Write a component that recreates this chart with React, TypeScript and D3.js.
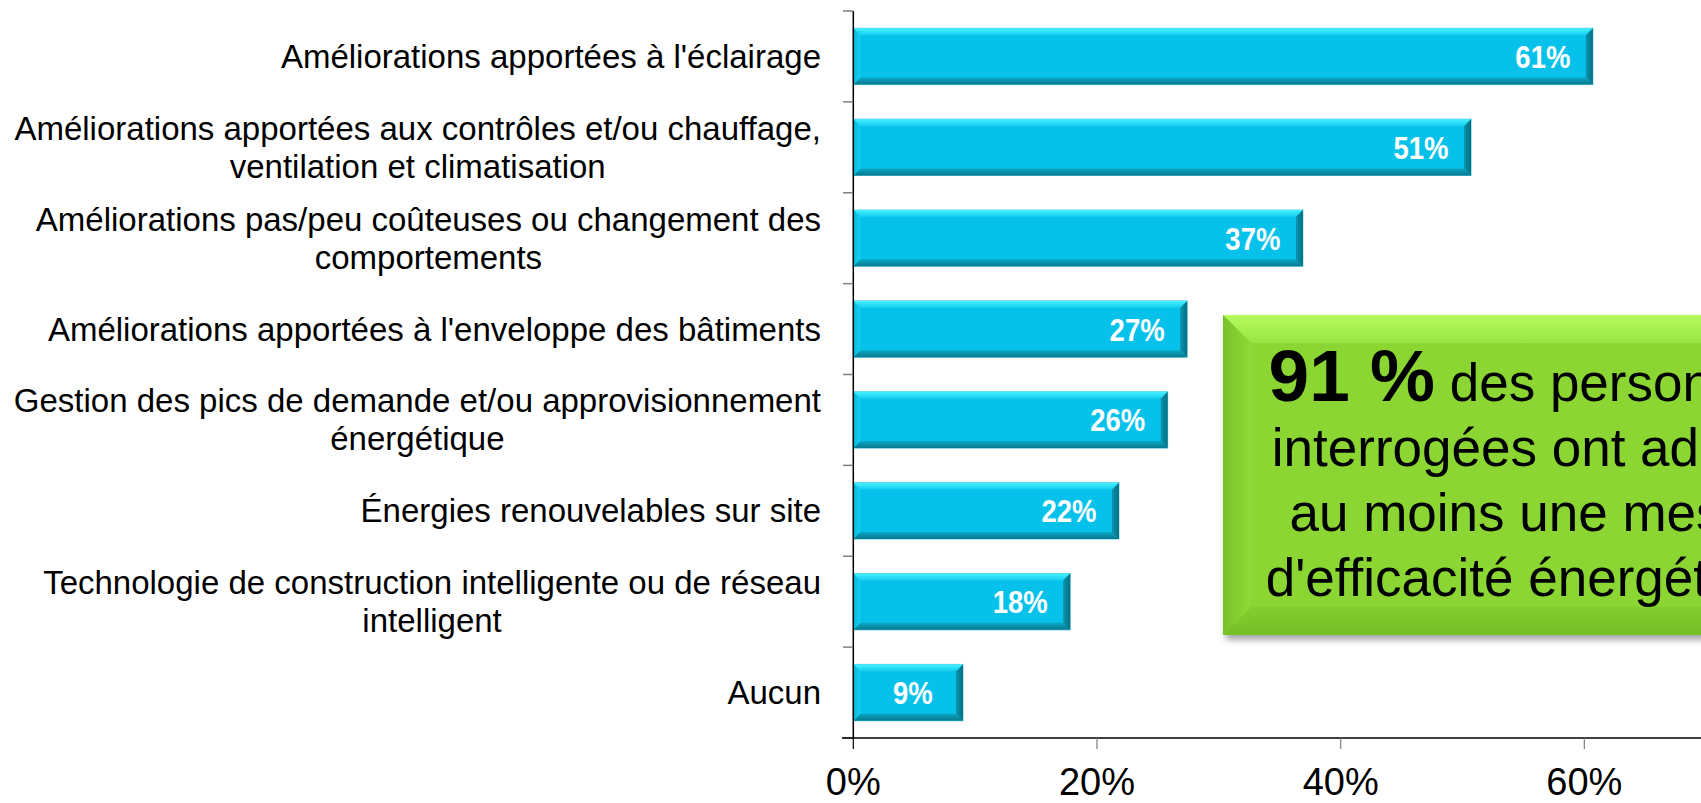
import React from "react";
import * as d3 from "d3";

const categories: string[] = [
  "Améliorations apportées à l'éclairage",
  "Améliorations apportées aux contrôles et/ou chauffage,\nventilation et climatisation",
  "Améliorations pas/peu coûteuses ou changement des\ncomportements",
  "Améliorations apportées à l'enveloppe des bâtiments",
  "Gestion des pics de demande et/ou approvisionnement\nénergétique",
  "Énergies renouvelables sur site",
  "Technologie de construction intelligente ou de réseau\nintelligent",
  "Aucun",
];
const values: number[] = [0.607, 0.507, 0.369, 0.274, 0.258, 0.218, 0.178, 0.09];
const xTicks: number[] = [0, 0.2, 0.4, 0.6];
const calloutBold = "91 %";
const calloutLines: string[] = [
  " des personnes",
  "interrogées ont adopté",
  " au moins une mesure",
  "d'efficacité énergétique",
];

const FONT = "'Liberation Sans', Arial, Helvetica, sans-serif";
const W = 1701;
const H = 803;

let ctx: CanvasRenderingContext2D | null = null;
function measure(text: string, font: string): number {
  if (!ctx) {
    const c = document.createElement("canvas");
    ctx = c.getContext("2d");
  }
  if (!ctx) return text.length * 16;
  ctx.font = font;
  return ctx.measureText(text).width;
}

export default function App() {
  const x = d3.scaleLinear().domain([0, 1]).range([853.3, 853.3 + 1218.4]);
  const y = d3
    .scaleBand<string>()
    .domain(categories)
    .range([11, 738])
    .paddingInner(0.38)
    .paddingOuter(0.19);
  const step = y.step();
  const bw = y.bandwidth();
  const fmt = d3.format(".0%");
  const boundaries = d3.range(categories.length + 1).map((i) => 11 + i * step);
  const labelRight = 821;
  const labelFont = `33px ${FONT}`;
  const b = 7;

  // callout box
  const bx = 1223, by = 315, bwid = 628, bh = 320, bb = 28;
  const cx = bx + bwid / 2;

  return (
    <svg
      width={W}
      height={H}
      style={{ position: "absolute", left: 0, top: 0, background: "#fff" }}
      fontFamily={FONT}
    >
      <defs>
        <linearGradient id="barTop" x1="0" y1="0" x2="0" y2="1">
          <stop offset="0" stopColor="#45F2FF" />
          <stop offset="1" stopColor="#14CCF0" />
        </linearGradient>
        <linearGradient id="barBottom" x1="0" y1="0" x2="0" y2="1">
          <stop offset="0" stopColor="#0AA8C6" />
          <stop offset="1" stopColor="#06788C" />
        </linearGradient>
        <linearGradient id="barRight" x1="0" y1="0" x2="1" y2="0">
          <stop offset="0" stopColor="#0995AF" />
          <stop offset="1" stopColor="#066E82" />
        </linearGradient>
        <linearGradient id="barLeft" x1="0" y1="0" x2="1" y2="0">
          <stop offset="0" stopColor="#0AB7DD" />
          <stop offset="1" stopColor="#14CEF1" />
        </linearGradient>
        <linearGradient id="gTop" x1="0" y1="0" x2="0" y2="1">
          <stop offset="0" stopColor="#B6FB5E" />
          <stop offset="1" stopColor="#98E443" />
        </linearGradient>
        <linearGradient id="gLeft" x1="0" y1="0" x2="1" y2="0">
          <stop offset="0" stopColor="#78C12A" />
          <stop offset="1" stopColor="#90DA38" />
        </linearGradient>
        <linearGradient id="gBottom" x1="0" y1="0" x2="0" y2="1">
          <stop offset="0" stopColor="#84CD2E" />
          <stop offset="1" stopColor="#76BE26" />
        </linearGradient>
        <filter id="shadow" x="-10%" y="-10%" width="130%" height="130%">
          <feDropShadow dx="3" dy="5" stdDeviation="3" floodColor="#000" floodOpacity="0.35" />
        </filter>
      </defs>

      {/* bars */}
      {categories.map((c, i) => {
        const x0 = x(0);
        const x1 = x(values[i]);
        const y0 = y(c) as number;
        const h = bw;
        return (
          <g key={c}>
            <rect x={x0} y={y0} width={x1 - x0} height={h} fill="#06C2EB" stroke="#5CCBE0" strokeWidth={1} />
            <polygon
              points={`${x0},${y0} ${x1},${y0} ${x1 - b},${y0 + b} ${x0 + b},${y0 + b}`}
              fill="url(#barTop)"
            />
            <polygon
              points={`${x0},${y0 + h} ${x1},${y0 + h} ${x1 - b},${y0 + h - b} ${x0 + b},${y0 + h - b}`}
              fill="url(#barBottom)"
            />
            <polygon
              points={`${x0},${y0} ${x0 + b},${y0 + b} ${x0 + b},${y0 + h - b} ${x0},${y0 + h}`}
              fill="url(#barLeft)"
            />
            <polygon
              points={`${x1},${y0} ${x1 - b},${y0 + b} ${x1 - b},${y0 + h - b} ${x1},${y0 + h}`}
              fill="url(#barRight)"
            />
            <text
              transform={`translate(${x1 - 50},${y0 + h / 2 + 11.5}) scale(0.86,1)`}
              textAnchor="middle"
              fontWeight="bold"
              fontSize={32}
              fill="#fff"
            >
              {fmt(values[i])}
            </text>
          </g>
        );
      })}

      {/* y axis */}
      <line x1={853.3} x2={853.3} y1={11} y2={738} stroke="#000" strokeWidth={1.5} />
      {boundaries.map((yy, i) => (
        <line key={i} x1={843} x2={853} y1={yy} y2={yy} stroke="#7F7F7F" strokeWidth={1.5} />
      ))}

      {/* x axis */}
      <line x1={842} x2={W} y1={738} y2={738} stroke="#000" strokeWidth={1.5} />
      {xTicks.map((t) => (
        <g key={t}>
          <line x1={x(t)} x2={x(t)} y1={738} y2={749} stroke={t === 0 ? "#000" : "#7F7F7F"} strokeWidth={1.2} />
          <text x={x(t)} y={795} textAnchor="middle" fontSize={38} fill="#000">
            {fmt(t)}
          </text>
        </g>
      ))}

      {/* category labels */}
      {categories.map((c) => {
        const lines = c.split("\n");
        const widths = lines.map((l) => measure(l, labelFont));
        const maxW = Math.max(...widths);
        const mid = (y(c) as number) + bw / 2;
        const lh = 38;
        const center = labelRight - maxW / 2;
        return (
          <g key={"l" + c}>
            {lines.map((l, j) => {
              const cy = mid + (j - (lines.length - 1) / 2) * lh;
              return (
                <text
                  key={j}
                  x={lines.length > 1 ? center : labelRight}
                  y={cy + 11.5}
                  textAnchor={lines.length > 1 ? "middle" : "end"}
                  fontSize={33}
                  fill="#000"
                >
                  {l}
                </text>
              );
            })}
          </g>
        );
      })}

      {/* callout */}
      <g filter="url(#shadow)">
        <rect x={bx} y={by} width={bwid} height={bh} fill="#8BD632" />
      </g>
      <polygon
        points={`${bx},${by} ${bx + bwid},${by} ${bx + bwid - bb},${by + bb} ${bx + bb},${by + bb}`}
        fill="url(#gTop)"
      />
      <polygon
        points={`${bx},${by + bh} ${bx + bwid},${by + bh} ${bx + bwid - bb},${by + bh - bb} ${bx + bb},${by + bh - bb}`}
        fill="url(#gBottom)"
      />
      <polygon
        points={`${bx},${by} ${bx + bb},${by + bb} ${bx + bb},${by + bh - bb} ${bx},${by + bh}`}
        fill="url(#gLeft)"
      />
      <rect x={bx + bb} y={by + bb} width={bwid - 2 * bb} height={bh - 2 * bb} fill="#8BD632" />
      <text x={cx - 4} y={401} textAnchor="middle" fill="#000" style={{ whiteSpace: "pre" }}>
        <tspan fontWeight="bold" fontSize={73}>
          {calloutBold}
        </tspan>
        <tspan fontSize={53}>{calloutLines[0]}</tspan>
      </text>
      {calloutLines.slice(1).map((l, i) => (
        <text
          key={i}
          x={cx}
          y={466 + i * 65}
          textAnchor="middle"
          fontSize={53}
          fill="#000"
          style={{ whiteSpace: "pre" }}
        >
          {l}
        </text>
      ))}
    </svg>
  );
}
